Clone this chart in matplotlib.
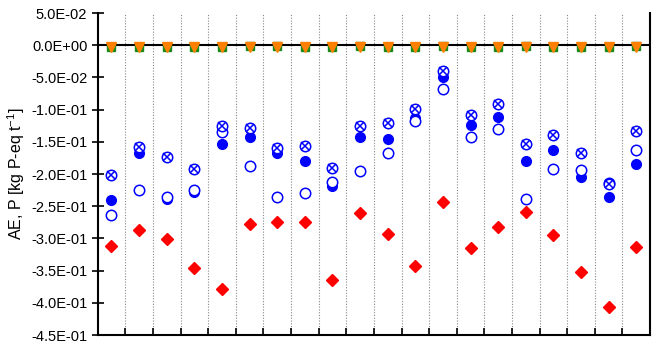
import numpy as np
import matplotlib.pyplot as plt
from matplotlib.ticker import FuncFormatter, MultipleLocator

plt.rcParams['font.family'] = ['Liberation Sans', 'DejaVu Sans']

n = 20
x = np.arange(1, n + 1)

diamond = [-0.311, -0.287, -0.301, -0.346, -0.378, -0.277, -0.274, -0.275, -0.364, -0.261,
           -0.293, -0.342, -0.243, -0.315, -0.282, -0.259, -0.294, -0.352, -0.406, -0.314]
filled = [-0.241, -0.167, -0.238, -0.228, -0.154, -0.143, -0.167, -0.180, -0.218, -0.142,
          -0.145, -0.113, -0.049, -0.124, -0.112, -0.180, -0.163, -0.205, -0.236, -0.184]
hollow = [-0.264, -0.224, -0.236, -0.225, -0.135, -0.188, -0.236, -0.230, -0.212, -0.195,
          -0.167, -0.118, -0.068, -0.142, -0.130, -0.238, -0.192, -0.193, -0.214, -0.163]
crossed = [-0.202, -0.158, -0.174, -0.192, -0.125, -0.129, -0.159, -0.157, -0.190, -0.126,
           -0.121, -0.099, -0.040, -0.109, -0.091, -0.154, -0.139, -0.168, -0.215, -0.133]
green = [-0.002, -0.002, -0.002, -0.002, -0.002, -0.001, -0.001, -0.002, -0.002, -0.001,
         -0.002, -0.002, -0.001, -0.002, -0.002, -0.001, -0.002, -0.002, -0.002, -0.001]
orange = [-0.003, -0.003, -0.003, -0.003, -0.003, -0.003, -0.003, -0.003, -0.003, -0.003,
          -0.003, -0.003, -0.003, -0.003, -0.003, -0.003, -0.003, -0.003, -0.003, -0.003]

fig = plt.figure(figsize=(6.6, 3.52), dpi=100)
ax = fig.add_axes([0.148, 0.048, 0.837, 0.915])

# separators between groups
for b in np.arange(1.5, n, 1.0):
    ax.axvline(b, color='#888888', lw=0.8, ls=(0, (1, 1.5)), zorder=0)
ax.axhline(0, color='black', lw=1.5, zorder=1)

ax.plot(x, diamond, 'D', color='#ff0000', ms=6.5, ls='none', zorder=3)
ax.plot(x, filled, 'o', color='#0000ff', ms=7, ls='none', zorder=3)
ax.plot(x, hollow, 'o', mfc='white', mec='#0000ff', mew=1.1, ms=7.5, ls='none', zorder=3)
ax.plot(x, crossed, 'o', mfc='white', mec='#0000ff', mew=1.1, ms=7.5, ls='none', zorder=4)
ax.plot(x, crossed, 'x', color='#0000ff', mew=1.1, ms=5.8, ls='none', zorder=5)
ax.plot(x, green, 's', color='#1a8a1a', ms=6, ls='none', zorder=3)
ax.plot(x, orange, 'v', color='#ff8000', ms=7.5, ls='none', zorder=4)

ax.set_xlim(0.5, n + 0.5)
ax.set_ylim(-0.45, 0.05)
ax.yaxis.set_major_locator(MultipleLocator(0.05))
ax.yaxis.set_major_formatter(FuncFormatter(lambda v, p: f"{v:.1E}" if abs(v) > 1e-9 else "0.0E+00"))
ax.set_xticks(np.arange(0.5, n + 1, 1.0))
ax.set_xticklabels([])
ax.tick_params(axis='x', direction='in', length=5, width=1.2)
ax.tick_params(axis='y', direction='inout', length=9, width=1.2, labelsize=10.5, pad=3)

ax.set_ylabel('AE, P [kg P-eq t$^{\\mathregular{-1}}$]', fontsize=11.5)
ax.yaxis.set_label_coords(-0.128, 0.5)

for side in ['left', 'bottom', 'right']:
    ax.spines[side].set_linewidth(1.5)
ax.spines['top'].set_visible(False)

fig.savefig('out.png', dpi=100)
